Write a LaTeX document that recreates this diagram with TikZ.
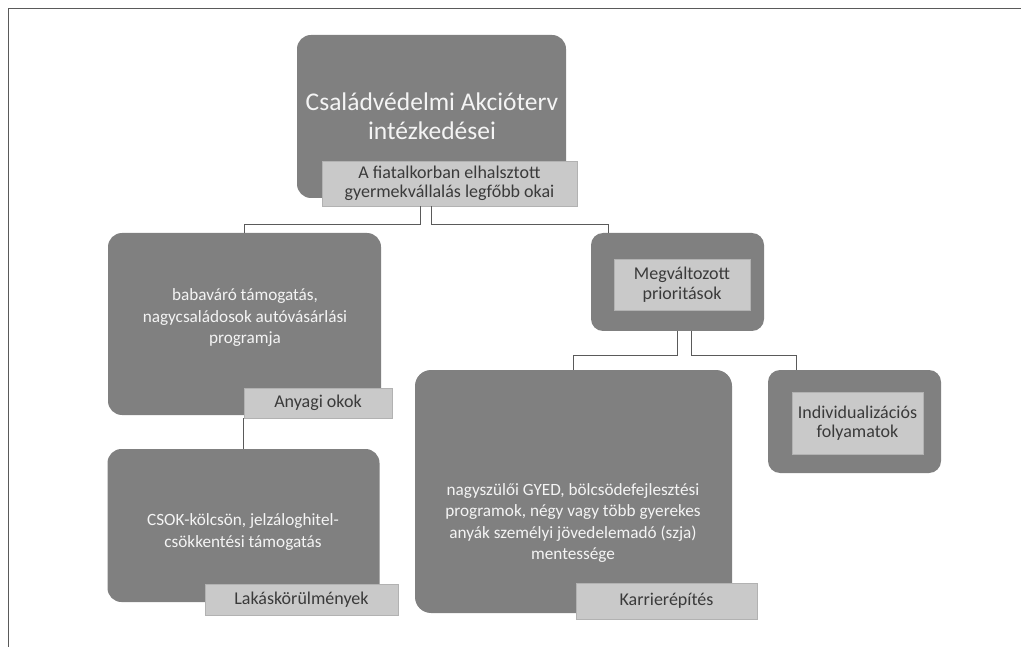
\documentclass[tikz,border=0pt]{standalone}
\usepackage{fontspec}
\setmainfont{Carlito}
\definecolor{boxgray}{HTML}{808080}
\definecolor{labgray}{HTML}{C9C9C9}
\definecolor{labborder}{HTML}{B2B2B2}
\definecolor{labtext}{HTML}{3A3A3A}
\definecolor{linegray}{HTML}{5A5A5A}
\definecolor{boxtext}{HTML}{F4F4F4}
\begin{document}
\begin{tikzpicture}[x=1pt,y=-1pt,
  darkbox/.style={fill=boxgray, draw=none, rounded corners=14pt, inner sep=0pt},
  labbox/.style={fill=labgray, draw=labborder, line width=0.6pt, inner sep=0pt, text=labtext, align=center, font=\fontsize{18}{19.5}\selectfont},
  wtext/.style={text=boxtext, align=center, inner sep=0pt, font=\fontsize{17.2}{21.5}\selectfont},
  conn/.style={draw=linegray, line width=0.9pt},
  frameline/.style={draw=linegray, line width=0.9pt}]
\useasboundingbox (0,0) rectangle (1021,647);
% frame
\coordinate (fTL) at (8,8);
\coordinate (fTR) at (1021,8);
\coordinate (fBL) at (8,647);
\draw[frameline] (fTR) -- (fTL) -- (fBL);

% top
\node[darkbox, minimum width=269pt, minimum height=163pt] (top) at (431.5,116.5) {};
\node[wtext, font=\fontsize{25.5}{29}\selectfont] (t0) at (432,116) {Családvédelmi Akcióterv\\intézkedései};
\node[labbox, minimum width=255pt, minimum height=45pt] (toplab) at (449.5,183.5) {A fiatalkorban elhalsztott\\gyermekvállalás legfőbb okai};

% left column
\node[darkbox, minimum width=273pt, minimum height=182pt] (b1) at (244.5,324) {};
\node[wtext] (t1) at (245,318) {babaváró támogatás,\\nagycsaládosok autóvásárlási\\programja};
\node[labbox, minimum width=148pt, minimum height=30pt] (b1lab) at (318,403) {Anyagi okok};

\node[darkbox, minimum width=272pt, minimum height=153pt] (b2) at (243.5,525.5) {};
\node[wtext] (t2) at (243,532) {CSOK-kölcsön, jelzáloghitel-\\csökkentési támogatás};
\node[labbox, minimum width=193pt, minimum height=31pt] (b2lab) at (301.5,599.5) {Lakáskörülmények};

% right parent
\node[darkbox, rounded corners=12pt, minimum width=173pt, minimum height=98pt] (rb) at (677.5,282) {};
\node[labbox, minimum width=136pt, minimum height=51pt] (rblab) at (682,284.5) {Megváltozott\\prioritások};

% middle
\node[darkbox, rounded corners=16pt, minimum width=317pt, minimum height=243pt] (mid) at (573.5,491.5) {};
\node[wtext] (t3) at (573,523) {nagyszülői GYED, bölcsödefejlesztési\\programok, négy vagy több gyerekes\\anyák személyi jövedelemadó (szja)\\mentessége};
\node[labbox, minimum width=181pt, minimum height=36pt] (midlab) at (666.5,601) {Karrierépítés};

% right child
\node[darkbox, rounded corners=12pt, minimum width=173pt, minimum height=103pt] (rb2) at (854.5,421.5) {};
\node[labbox, minimum width=131pt, minimum height=62pt] (rb2lab) at (857.5,423) {Individualizációs\\folyamatok};

% connectors
\draw[conn] ([xshift=-29pt]toplab.south) -- ++(0,18) -| (b1.north);
\draw[conn] ([xshift=-18.5pt]toplab.south) -- ++(0,18) -| ([xshift=-69.5pt]rb.north);
\draw[conn] (b1lab.south west) -- (b1lab.south west |- b2.north);
\draw[conn] ([xshift=-0.5pt]rb.south) -- ++(0,24) -| (mid.north);
\draw[conn] ([xshift=13.5pt]rb.south) -- ++(0,24) -| ([xshift=-58.5pt]rb2.north);
\end{tikzpicture}
\end{document}
